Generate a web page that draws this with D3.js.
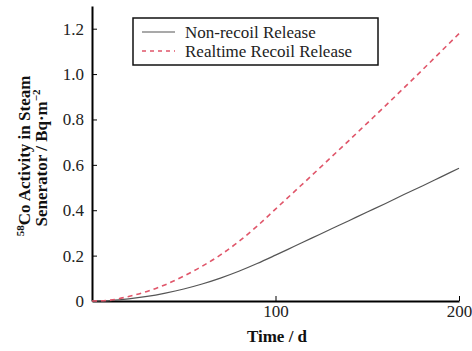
<!DOCTYPE html>
<html>
<head>
<meta charset="utf-8">
<script src="https://cdn.jsdelivr.net/npm/d3@7"></script>
<style>
  body { margin: 0; background: #fff; }
  svg text { font-family: "Liberation Serif", "DejaVu Serif", serif; fill: #222; }
  .axisTitle { font-weight: bold; font-size: 17px; fill: #111; }
  .legendLabel { font-size: 17px; }
</style>
</head>
<body>
<div id="chart"></div>
<script>
// time in days
var days = [0, 10, 20, 30, 40, 50, 60, 70, 80, 90, 100, 110, 120, 130, 140, 150, 160, 170, 180, 190, 200]

// 58Co activity, Bq/m^2
var nonRecoil = [0, 0.002, 0.009, 0.02, 0.035, 0.053, 0.075, 0.101, 0.131, 0.165, 0.202,
                 0.24, 0.278, 0.316, 0.354, 0.392, 0.43, 0.469, 0.507, 0.546, 0.585]
var realtimeRecoil = [0, 0.004, 0.02, 0.042, 0.072, 0.11, 0.153, 0.203, 0.262, 0.33, 0.405,
                      0.48, 0.555, 0.631, 0.707, 0.784, 0.861, 0.939, 1.018, 1.098, 1.178]

var xTicks = [100, 200]
var yTicks = [0, 0.2, 0.4, 0.6, 0.8, 1.0, 1.2]
var seriesNames = ["Non-recoil Release", "Realtime Recoil Release"]

var serif = "'Liberation Serif', 'DejaVu Serif', serif"
var width = 472
var height = 351

var svg = d3.select("#chart").append("svg")
    .attr("width", width)
    .attr("height", height)

var x = d3.scaleLinear().domain([0, 200]).range([92, 459])
var y = d3.scaleLinear().domain([0, 1.3]).range([301, 6])

// axes, ticks pointing inward
var xAxis = svg.append("g")
    .attr("transform", "translate(0," + y(0) + ")")
    .attr("font-family", serif)
    .attr("font-size", 17)
    .call(d3.axisBottom(x).tickValues(xTicks).tickSizeInner(-5).tickSizeOuter(0).tickPadding(4))
xAxis.select(".domain").attr("stroke", "#000").attr("stroke-width", 2)
xAxis.selectAll(".tick line").attr("stroke", "#000")
xAxis.selectAll(".tick text").attr("font-family", serif).attr("font-size", 17).attr("fill", "#222")

var yAxis = svg.append("g")
    .attr("transform", "translate(" + x(0) + ",0)")
    .attr("font-family", serif)
    .attr("font-size", 17)
    .call(d3.axisLeft(y).tickValues(yTicks).tickSizeInner(-5).tickSizeOuter(0).tickPadding(8)
        .tickFormat(d => d == 0 ? "0" : d3.format(".1f")(d)))
yAxis.select(".domain").attr("stroke", "#000").attr("stroke-width", 2)
yAxis.selectAll(".tick line").attr("stroke", "#000")
yAxis.selectAll(".tick text").attr("font-family", serif).attr("font-size", 17).attr("fill", "#222")

// curves
var line = d3.line()
    .x((d, i) => x(days[i]))
    .y(d => y(d))
    .curve(d3.curveMonotoneX)

svg.append("path")
    .datum(nonRecoil)
    .attr("fill", "none")
    .attr("stroke", "#555")
    .attr("stroke-width", 1.2)
    .attr("d", line)

svg.append("path")
    .datum(realtimeRecoil)
    .attr("fill", "none")
    .attr("stroke", "#e0566a")
    .attr("stroke-width", 1.6)
    .attr("stroke-dasharray", "5,4")
    .attr("d", line)

// axis titles
svg.append("text")
    .attr("class", "axisTitle")
    .attr("font-family", serif)
    .attr("x", 277)
    .attr("y", 342)
    .attr("text-anchor", "middle")
    .text("Time / d")

var yTitle = svg.append("text")
    .attr("class", "axisTitle")
    .attr("font-family", serif)
    .attr("transform", "translate(30,156) rotate(-90)")
    .attr("text-anchor", "middle")
yTitle.append("tspan").attr("font-size", 11).attr("dy", -6).text("58")
yTitle.append("tspan").attr("dy", 6).text("Co Activity in Steam")

var yTitle2 = svg.append("text")
    .attr("class", "axisTitle")
    .attr("font-family", serif)
    .attr("transform", "translate(47,158) rotate(-90)")
    .attr("text-anchor", "middle")
yTitle2.append("tspan").text("Senerator / Bq\u00b7m")
yTitle2.append("tspan").attr("font-size", 11).attr("dy", -7).text("\u22122")

// legend
var legend = svg.append("g")
legend.append("rect")
    .attr("x", 133).attr("y", 18)
    .attr("width", 245).attr("height", 47)
    .attr("fill", "#fff")
    .attr("stroke", "#111")
    .attr("stroke-width", 1.5)

var legendStyles = [
    {stroke: "#555", dash: null, w: 1.2},
    {stroke: "#e0566a", dash: "4,4", w: 1.6}
]

seriesNames.forEach(function(name, i) {
    var ly = 32 + i * 19
    legend.append("line")
        .attr("x1", 142).attr("x2", 175)
        .attr("y1", ly).attr("y2", ly)
        .attr("stroke", legendStyles[i].stroke)
        .attr("stroke-width", legendStyles[i].w)
        .attr("stroke-dasharray", legendStyles[i].dash)
    legend.append("text")
        .attr("class", "legendLabel")
        .attr("font-family", serif)
        .attr("x", 185)
        .attr("y", ly + 5.5)
        .text(name)
})
</script>
</body>
</html>
